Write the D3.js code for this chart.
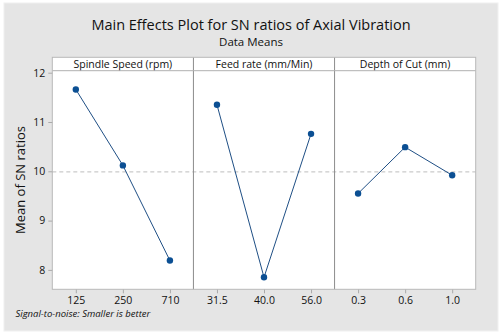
<!DOCTYPE html>
<html>
<head>
<meta charset="utf-8">
<script src="https://cdn.jsdelivr.net/npm/d3@7"></script>
<style>
  html, body { margin: 0; padding: 0; background: #fff; }
  svg text { font-family: "Open Sans", "Noto Sans", sans-serif; fill: #111; }
</style>
</head>
<body>
<svg id="chart" width="503" height="336"></svg>
<script>
// --- data ---
const factors = ['Spindle Speed (rpm)', 'Feed rate (mm/Min)', 'Depth of Cut (mm)'];
const spindleLevels = ['125', '250', '710'];
const spindleMeans = [11.66, 10.12, 8.19];
const feedLevels = ['31.5', '40.0', '56.0'];
const feedMeans = [11.35, 7.85, 10.76];
const depthLevels = ['0.3', '0.6', '1.0'];
const depthMeans = [9.55, 10.49, 9.92];
const yTicks = [8, 9, 10, 11, 12];

const levels = [spindleLevels, feedLevels, depthLevels];
const means = [spindleMeans, feedMeans, depthMeans];
const grandMean = d3.mean(means.flat());

const svg = d3.select('#chart');
const plot = { left: 52.3, right: 475.7, top: 70.7, bottom: 289.3, strip: 57.3 };

// background frame
svg.append('rect').attr('x', 4).attr('y', 3).attr('width', 494).attr('height', 328)
   .attr('fill', '#e5e5e5').attr('stroke', '#f0f0f0');

// titles
svg.append('text').attr('x', 251).attr('y', 30).attr('text-anchor', 'middle')
   .style('font-size', '14.5px').style('font-weight', 500)
   .text('Main Effects Plot for SN ratios of Axial Vibration');
svg.append('text').attr('x', 251).attr('y', 46).attr('text-anchor', 'middle')
   .style('font-size', '11.5px').text('Data Means');

const panel = d3.scaleBand().domain(factors).range([plot.left, plot.right]);
const y = d3.scaleLinear().domain([8, 12]).range([269.9, 72.7]);

// white plot + strip area
svg.append('rect').attr('x', plot.left).attr('y', plot.strip)
   .attr('width', plot.right - plot.left).attr('height', plot.bottom - plot.strip)
   .attr('fill', '#fff');

// reference line at grand mean
svg.append('line').attr('x1', plot.left).attr('x2', plot.right)
   .attr('y1', y(grandMean)).attr('y2', y(grandMean))
   .attr('stroke', '#bdbdbd').attr('stroke-dasharray', '4,3');

factors.forEach((f, i) => {
    const x0 = panel(f);
    const x = d3.scalePoint().domain(levels[i]).range([x0, x0 + panel.bandwidth()]).padding(0.5);
    const pts = levels[i].map((l, j) => ({ l, v: means[i][j] }));

    // strip label
    svg.append('text').attr('x', x0 + panel.bandwidth() / 2).attr('y', plot.strip + 10.5)
       .attr('text-anchor', 'middle').style('font-size', '10.5px').text(f);

    // x axis
    const ax = svg.append('g').attr('transform', `translate(0,${plot.bottom})`)
       .call(d3.axisBottom(x).tickSize(4).tickPadding(3));
    ax.select('.domain').remove();
    ax.selectAll('line').attr('stroke', '#aaa');
    ax.selectAll('text').style('font-size', '10.5px').attr('fill', '#111')
      .style('font-family', '"Open Sans", sans-serif');

    svg.append('path').datum(pts)
       .attr('fill', 'none').attr('stroke', '#1f4f85').attr('stroke-width', 1)
       .attr('d', d3.line().x(d => x(d.l)).y(d => y(d.v)));

    svg.selectAll(null).data(pts).enter().append('circle')
       .attr('cx', d => x(d.l)).attr('cy', d => y(d.v)).attr('r', 3.2)
       .attr('fill', '#0b4f93');

    // divider
    if (i > 0) {
        svg.append('line').attr('x1', x0).attr('x2', x0)
           .attr('y1', plot.strip).attr('y2', plot.bottom)
           .attr('stroke', '#8c8c8c');
    }
});

// strip bottom line and frame
svg.append('line').attr('x1', plot.left).attr('x2', plot.right)
   .attr('y1', plot.top).attr('y2', plot.top).attr('stroke', '#b0b0b0');
svg.append('rect').attr('x', plot.left).attr('y', plot.strip)
   .attr('width', plot.right - plot.left).attr('height', plot.bottom - plot.strip)
   .attr('fill', 'none').attr('stroke', '#b8b8b8');

// y axis
const ay = svg.append('g').attr('transform', `translate(${plot.left},0)`)
   .call(d3.axisLeft(y).tickValues(yTicks).tickFormat(d3.format('d')).tickSize(4).tickPadding(3));
ay.select('.domain').remove();
ay.selectAll('line').attr('stroke', '#aaa');
ay.selectAll('text').style('font-size', '10.5px').attr('fill', '#111')
  .style('font-family', '"Open Sans", sans-serif');

svg.append('text').attr('transform', `translate(25,${(plot.top + plot.bottom) / 2}) rotate(-90)`)
   .attr('text-anchor', 'middle').style('font-size', '13px').text('Mean of SN ratios');

// footer
svg.append('text').attr('x', 15.5).attr('y', 316.5)
   .style('font-size', '9.5px').style('font-style', 'italic')
   .text('Signal-to-noise: Smaller is better');
</script>
</body>
</html>
